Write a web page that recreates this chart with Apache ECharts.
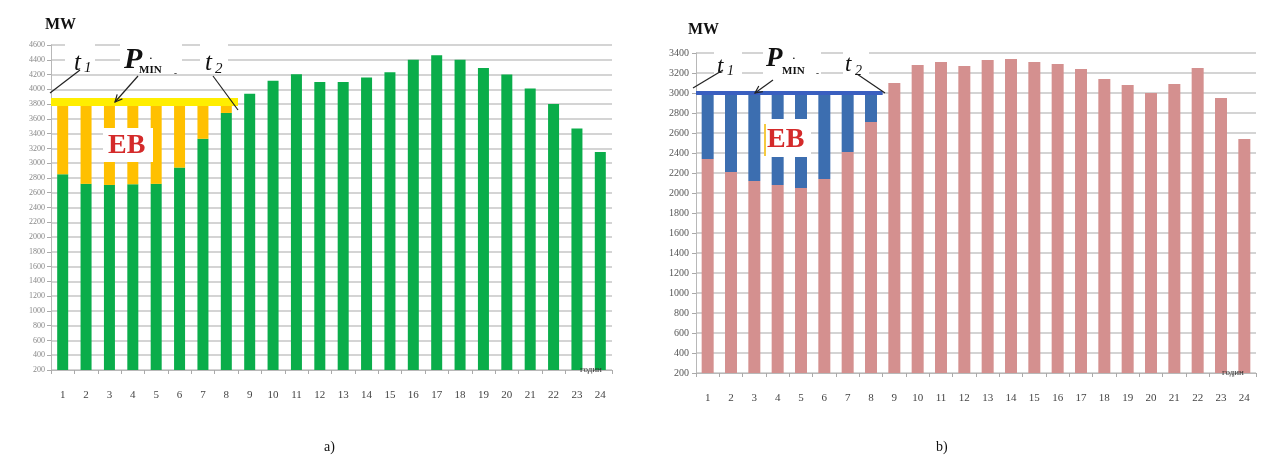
<!DOCTYPE html>
<html>
<head>
<meta charset="utf-8">
<script src="https://cdn.jsdelivr.net/npm/echarts@6/dist/echarts.min.js"></script>
<style>
html,body{margin:0;padding:0;background:#fff;}
#c{width:1269px;height:464px;}
</style>
</head>
<body>
<div id="c"></div>
<script>
// ---- data ----
const HOURS = ['1','2','3','4','5','6','7','8','9','10','11','12','13','14','15','16','17','18','19','20','21','22','23','24'];
const LOAD_A = [2850,2720,2705,2715,2720,2940,3330,3680,3940,4115,4205,4100,4100,4160,4230,4400,4460,4400,4290,4200,4010,3800,3470,3150];
const PMIN_A = 3830;
const LOAD_B = [2340,2210,2120,2080,2050,2140,2410,2710,3100,3280,3310,3270,3330,3340,3310,3290,3240,3140,3080,3000,3090,3250,2950,2540];
const PMIN_B = 3000;
const EB_HOURS = 8;           // t1..t2 span: hours 1..8
const Y_A = {min:200, max:4600, step:200};
const Y_B = {min:200, max:3400, step:200};
const X_UNIT = 'годин';

// derived: energy below P_MIN during t1..t2
const EB_A = LOAD_A.map((v,i)=> i<EB_HOURS ? Math.max(PMIN_A - v,0) : '-');
const EB_B = LOAD_B.map((v,i)=> i<EB_HOURS ? Math.max(PMIN_B - v,0) : '-');

const SERIF = '"Liberation Serif","DejaVu Serif",serif';
const grid = '#c6c6c6';

function catAxis(gi){
  return {type:'category', gridIndex:gi, data:HOURS,
    axisLine:{lineStyle:{color:'#b8b8b8'}},
    axisTick:{show:true, length:4, lineStyle:{color:'#aaa'}},
    axisLabel:{fontFamily:SERIF, fontSize:11, color:'#444', margin:20}};
}
function posAxis(gi){
  return {type:'value', gridIndex:gi, min:0, max:HOURS.length, show:false};
}
function valAxis(gi, y, lab){
  lab.formatter = v => String(v);
  return {type:'value', gridIndex:gi, min:y.min, max:y.max, interval:y.step,
    axisLine:{show:true, lineStyle:{color:'#b8b8b8'}},
    axisTick:{show:true, length:4, lineStyle:{color:'#aaa'}},
    splitLine:{lineStyle:{color:grid, width:1.6}},
    axisLabel:lab};
}

const chart = echarts.init(document.getElementById('c'), null, {renderer:'canvas'});

function txt(x,y,text,font,opts){
  return Object.assign({type:'text', x:x, y:y, z:100, style:Object.assign({text:text, font:font, fill:'#111', align:'left', verticalAlign:'middle'}, opts||{})});
}
function seg(x1,y1,x2,y2){
  return {type:'line', z:101, shape:{x1:x1,y1:y1,x2:x2,y2:y2}, style:{stroke:'#222', lineWidth:1.2}};
}
function arrowHead(x1,y1,x2,y2){
  const a = Math.atan2(y2-y1,x2-x1), L=8, w=0.45;
  return {type:'polyline', z:101, shape:{points:[
    [x2-L*Math.cos(a-w), y2-L*Math.sin(a-w)],[x2,y2],[x2-L*Math.cos(a+w), y2-L*Math.sin(a+w)]]},
    style:{stroke:'#222', lineWidth:1.2, fill:null}};
}
function wbox(x,y,w,h){
  return {type:'rect', z:99, shape:{x:x,y:y,width:w,height:h}, style:{fill:'#fff'}};
}

const graphics = [
  // ---- chart a ----
  txt(45,25,'MW','bold 16px '+SERIF),
  wbox(65,40,30,34), wbox(120,40,62,34), wbox(200,40,28,34),
  txt(74,63,'t','italic 25px '+SERIF),
  txt(84,68,'1','italic 15px '+SERIF),
  txt(124,60,'P','bold italic 30px '+SERIF),
  txt(139,70,'MIN','bold 11px '+SERIF),
  txt(149,62,'˙','bold 11px '+SERIF),
  txt(174,74,'-','bold 9px '+SERIF),
  txt(205,63,'t','italic 25px '+SERIF),
  txt(215,69,'2','italic 15px '+SERIF),
  seg(50,93,80,70),
  seg(138,76,115,102), arrowHead(138,76,115,102),
  seg(213,76,238,110),
  {type:'rect', z:99, shape:{x:103,y:128,width:50,height:34}, style:{fill:'#fff'}},
  txt(108,146,'EB','bold 28px '+SERIF,{fill:'#d42a2a'}),
  txt(580,370,X_UNIT,'9px '+SERIF,{fill:'#333'}),
  txt(324,447,'a)','14px '+SERIF,{fill:'#111'}),
  // ---- chart b ----
  txt(688,30,'MW','bold 16px '+SERIF),
  wbox(714,44,28,32), wbox(763,42,58,34), wbox(843,44,26,32),
  txt(717,67,'t','italic 23px '+SERIF),
  txt(727,71,'1','italic 14px '+SERIF),
  txt(766,59,'P','bold italic 27px '+SERIF),
  txt(782,71,'MIN','bold 11px '+SERIF),
  txt(792,62,'˙','bold 11px '+SERIF),
  txt(816,74,'-','bold 9px '+SERIF),
  txt(845,65,'t','italic 23px '+SERIF),
  txt(855,71,'2','italic 14px '+SERIF),
  seg(693,88,723,70),
  seg(773,80,755,93), arrowHead(773,80,755,93),
  seg(857,74,885,93),
  {type:'rect', z:99, shape:{x:764,y:119,width:47,height:38}, style:{fill:'#fff'}},
  txt(767,140,'EB','bold 28px '+SERIF,{fill:'#d42a2a'}),
  {type:'line', z:102, shape:{x1:765,y1:124,x2:765,y2:156}, style:{stroke:'#f2b800', lineWidth:1.5}},
  txt(1222,373,X_UNIT,'9px '+SERIF,{fill:'#333'}),
  txt(936,447,'b)','14px '+SERIF,{fill:'#111'})
];

chart.setOption({
  animation:false,
  backgroundColor:'#fff',
  grid:[
    {left:51, top:45, width:561, height:325},
    {left:696, top:53, width:560, height:320}
  ],
  xAxis:[catAxis(0), catAxis(1), posAxis(0), posAxis(1)],
  yAxis:[
    valAxis(0, Y_A, {fontFamily:SERIF, fontSize:8, color:'#888', margin:6}),
    valAxis(1, Y_B, {fontFamily:SERIF, fontSize:10, color:'#555', margin:7})
  ],
  series:[
    {type:'bar', xAxisIndex:0, yAxisIndex:0, stack:'a', data:LOAD_A, barWidth:11,
      itemStyle:{color:'#0aad4a'}},
    {type:'bar', xAxisIndex:0, yAxisIndex:0, stack:'a', data:EB_A, barWidth:11,
      itemStyle:{color:'#ffc000'}},
    {type:'line', xAxisIndex:2, yAxisIndex:0, data:[[0,PMIN_A],[EB_HOURS,PMIN_A]],
      symbol:'none', lineStyle:{color:'#ffee00', width:8}, z:5},
    {type:'bar', xAxisIndex:1, yAxisIndex:1, stack:'b', data:LOAD_B, barWidth:12,
      itemStyle:{color:'#d4908f'}},
    {type:'bar', xAxisIndex:1, yAxisIndex:1, stack:'b', data:EB_B, barWidth:12,
      itemStyle:{color:'#3c6eb0'}},
    {type:'line', xAxisIndex:3, yAxisIndex:1, data:[[0,PMIN_B],[EB_HOURS,PMIN_B]],
      symbol:'none', lineStyle:{color:'#3a5fc0', width:4}, z:5}
  ],
  graphic:graphics
});
</script>
</body>
</html>
